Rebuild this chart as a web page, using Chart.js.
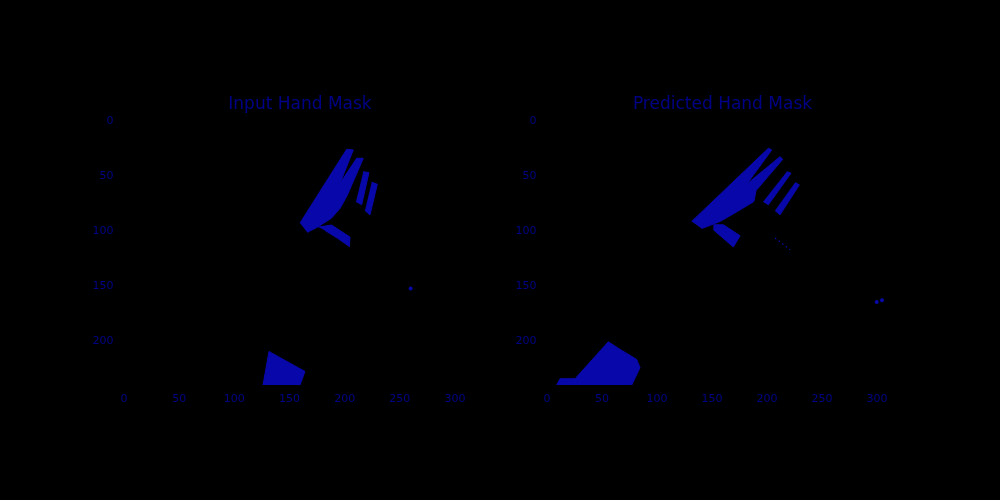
<!DOCTYPE html>
<html>
<head>
<meta charset="utf-8">
<script src="https://cdn.jsdelivr.net/npm/chart.js@4.4.1/dist/chart.umd.min.js"></script>
<style>
  html, body { margin: 0; padding: 0; background: #000; }
  #wrap { display: flex; width: 1000px; height: 500px; }
  .cell { position: relative; width: 500px; height: 500px; }
</style>
</head>
<body>
<div id="wrap">
  <div class="cell"><canvas id="c1" width="500" height="500"></canvas></div>
  <div class="cell"><canvas id="c2" width="500" height="500"></canvas></div>
</div>
<script>
// ---- tick labels / titles ----
const xTicks = [0, 50, 100, 150, 200, 250, 300];
const yTicks = [0, 50, 100, 150, 200];
const titles = ['Input Hand Mask', 'Predicted Hand Mask'];

// ---- left panel regions (x, y) ----
const leftHand   = [[159.5,92.6],[201.8,25.6],[207.8,26.2],[195.8,56.4],[210.9,33.8],[216.9,33.8],[202.5,67.0],[196.0,79.0],[188.0,88.1],[175.5,96.2],[166.0,101.0]];
const leftThumb  = [[176.1,96.2],[188.2,94.4],[204.8,105.3],[204.2,113.8],[193.3,106.2],[182.2,99.3]];
const leftRing   = [[216.9,45.9],[222.0,46.8],[215.4,76.0],[210.3,73.0]];
const leftPinky  = [[224.5,55.5],[229.6,57.3],[222.9,85.1],[218.4,81.2]];
const leftBase   = [[126.0,239.5],[131.4,209.1],[164.0,227.2],[159.5,239.5]];
const leftDots   = [[259.8,152.0]];

// ---- right panel regions (x, y) ----
const rightHand  = [[131.5,91.1],[201.2,24.7],[204.3,26.2],[181.5,57.3],[211.8,32.3],[214.3,34.7],[190.0,63.1],[188.0,73.0],[173.0,82.1],[157.3,91.1],[140.6,97.5]];
const rightThumb = [[151.2,94.1],[160.3,94.1],[175.5,104.1],[169.4,114.3],[151.2,98.6]];
const rightRing  = [[217.9,45.9],[221.8,47.3],[201.2,76.0],[196.6,73.0]];
const rightPinky = [[225.5,55.8],[229.4,57.9],[211.8,85.1],[207.3,81.2]];
const rightBase  = [[8.8,239.5],[11.8,233.8],[25.5,233.8],[55.7,200.3],[66.4,207.2],[81.5,216.3],[84.5,223.8],[77.0,239.5]];
const rightTail  = [[207.3,106.2],[220.9,116.7]];
const rightDots  = [[299.7,164.1],[304.5,162.6]];

const BLUE = 'rgb(8,8,170)';
const TEXT = 'rgb(0,0,135)';
const pts = a => a.map(p => ({x: p[0], y: p[1]}));

function poly(a) {
  return { data: pts(a), fill: 'shape', backgroundColor: BLUE, borderColor: BLUE,
           borderWidth: 1, pointRadius: 0, tension: 0 };
}
function dots(a) {
  return { data: pts(a), showLine: false, pointRadius: 2, pointBackgroundColor: BLUE,
           pointBorderWidth: 0, fill: false, clip: false };
}
function tail(a) {
  return { data: pts(a), fill: false, borderColor: BLUE, borderWidth: 1.2,
           borderDash: [1.5, 3], pointRadius: 0 };
}

function makeChart(id, datasets, title, padLeft, padRight) {
  return new Chart(document.getElementById(id), {
    type: 'line',
    data: { datasets },
    options: {
      responsive: false,
      animation: false,
      events: [],
      layout: { padding: { left: padLeft, right: padRight, top: 90, bottom: 85 } },
      plugins: {
        legend: { display: false },
        tooltip: { enabled: false },
        title: {
          display: true, text: title, fullSize: false, color: TEXT,
          font: { family: 'DejaVu Sans', size: 17, weight: 'normal' },
          padding: { top: 4.8, bottom: 5.3 }
        }
      },
      scales: {
        x: {
          type: 'linear', min: -0.5, max: 319.5,
          grid: { display: false, drawTicks: false },
          border: { display: false },
          afterBuildTicks: s => { s.ticks = xTicks.map(v => ({ value: v })); },
          afterFit: s => { s.height = 30; },
          ticks: { color: TEXT, padding: 8, autoSkip: false, maxRotation: 0,
                   font: { family: 'DejaVu Sans', size: 11 } }
        },
        y: {
          type: 'linear', reverse: true, min: -0.5, max: 239.5,
          grid: { display: false, drawTicks: false },
          border: { display: false },
          afterBuildTicks: s => { s.ticks = yTicks.map(v => ({ value: v })); },
          afterFit: s => { s.width = 40; },
          ticks: { color: TEXT, padding: 10, autoSkip: false,
                   font: { family: 'DejaVu Sans', size: 11 } }
        }
      }
    }
  });
}

makeChart('c1', [poly(leftHand), poly(leftThumb), poly(leftRing), poly(leftPinky), poly(leftBase), dots(leftDots)],
          titles[0], 83.5, 23.5);
makeChart('c2', [poly(rightHand), poly(rightThumb), poly(rightRing), poly(rightPinky), poly(rightBase), tail(rightTail), dots(rightDots)],
          titles[1], 6.5, 101.5);
</script>
</body>
</html>
